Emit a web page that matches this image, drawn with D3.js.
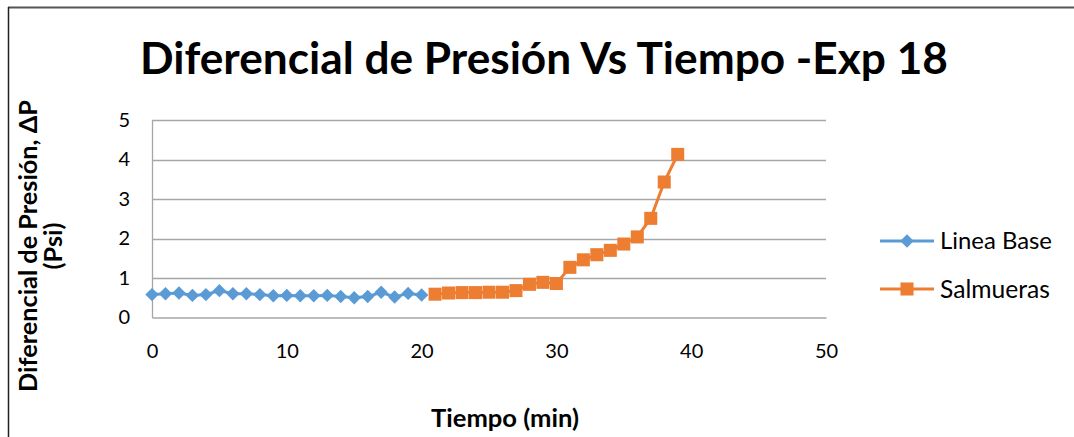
<!DOCTYPE html>
<html><head><meta charset="utf-8">
<script src="https://cdn.jsdelivr.net/npm/d3@7"></script>
<style>html,body{margin:0;padding:0;background:#fff;}svg{display:block;}</style>
</head><body>
<script>
const titleText = "Diferencial de Presión Vs Tiempo -Exp 18";
const yTitleLines = ["Diferencial de Presión, ΔP", "(Psi)"];
const xTitleText = "Tiempo (min)";
const seriesNames = ["Linea Base", "Salmueras"];
const xTicks = [0, 10, 20, 30, 40, 50];
const yTicks = [0, 1, 2, 3, 4, 5];
const baseTime = [0,1,2,3,4,5,6,7,8,9,10,11,12,13,14,15,16,17,18,19,20];
const baseDP = [0.58,0.60,0.62,0.56,0.58,0.68,0.60,0.60,0.58,0.55,0.56,0.55,0.55,0.56,0.53,0.50,0.53,0.64,0.52,0.61,0.57];
const brineTime = [21,22,23,24,25,26,27,28,29,30,31,32,33,34,35,36,37,38,39];
const brineDP = [0.59,0.62,0.63,0.63,0.64,0.64,0.68,0.84,0.89,0.86,1.27,1.46,1.59,1.70,1.86,2.04,2.51,3.43,4.13];

const W = 1074, H = 437;
const font = "Lato, 'Open Sans', sans-serif";
const svg = d3.select("body").append("svg").attr("width", W).attr("height", H);

// frame
svg.append("line").attr("x1", 8).attr("x2", W).attr("y1", 7.5).attr("y2", 7.5).attr("stroke", "#555").attr("stroke-width", 2);
svg.append("line").attr("x1", 8.5).attr("x2", 8.5).attr("y1", 7).attr("y2", H).attr("stroke", "#222").attr("stroke-width", 1.5);

const x = d3.scaleLinear().domain([0, 50]).range([152, 826]);
const y = d3.scaleLinear().domain([0, 5]).range([317.5, 120]);

// gridlines
svg.append("g").selectAll("line").data(yTicks.filter(d => d > 0)).join("line")
  .attr("x1", x(0)).attr("x2", x(50)).attr("y1", d => Math.round(y(d)) + 0.5).attr("y2", d => Math.round(y(d)) + 0.5)
  .attr("stroke", "#a6a6a6").attr("stroke-width", 1.3);

// axes
const yAxis = d3.axisLeft(y).tickValues(yTicks).tickSize(0).tickPadding(22).tickFormat(d3.format("d"));
const xAxis = d3.axisBottom(x).tickValues(xTicks).tickSize(0).tickPadding(22).tickFormat(d3.format("d"));
const gy = svg.append("g").attr("transform", `translate(${x(0)},0)`).call(yAxis);
const gx = svg.append("g").attr("transform", `translate(0,${y(0)})`).call(xAxis);
[gy, gx].forEach(g => {
  g.select(".domain").attr("stroke", "#a6a6a6").attr("stroke-width", 1.3);
  g.selectAll("text").attr("font-family", font).attr("font-size", 20).attr("fill", "#000");
});
gx.selectAll("text").attr("dy", "0.9em");

// lines
const line = d3.line().x(d => x(d[0])).y(d => y(d[1]));
const baseData = baseTime.map((t, i) => [t, baseDP[i]]);
const brineData = brineTime.map((t, i) => [t, brineDP[i]]);
const blue = "#5b9bd5", orange = "#ed7d31";

svg.append("path").datum(baseData).attr("d", line).attr("fill", "none").attr("stroke", blue).attr("stroke-width", 3);
const diamond = d3.symbol().type(d3.symbolSquare).size(90);
svg.append("g").selectAll("path").data(baseData).join("path")
  .attr("d", diamond).attr("fill", blue)
  .attr("transform", d => `translate(${x(d[0])},${y(d[1])}) rotate(45)`);

svg.append("path").datum(brineData).attr("d", line).attr("fill", "none").attr("stroke", orange).attr("stroke-width", 3);
const square = d3.symbol().type(d3.symbolSquare).size(170);
svg.append("g").selectAll("path").data(brineData).join("path")
  .attr("d", square).attr("fill", orange)
  .attr("transform", d => `translate(${x(d[0])},${y(d[1])})`);

// text fitting helper
function fit(t, width, maxSize) {
  let s = maxSize;
  t.attr("font-size", s);
  const w = t.node().getComputedTextLength();
  if (w > 0) t.attr("font-size", s * width / w);
}

// title
const title = svg.append("text").attr("x", 544).attr("y", 74).attr("text-anchor", "middle")
  .attr("font-family", font).attr("font-weight", "bold").attr("fill", "#000").text(titleText);
fit(title, 808, 42);

// y title
const yt1 = svg.append("text").attr("transform", "translate(37,246) rotate(-90)").attr("text-anchor", "middle")
  .attr("font-family", font).attr("font-weight", "bold").attr("fill", "#000").text(yTitleLines[0]);
fit(yt1, 292, 19);
const yt2 = svg.append("text").attr("transform", "translate(62,246) rotate(-90)").attr("text-anchor", "middle")
  .attr("font-family", font).attr("font-weight", "bold").attr("fill", "#000").text(yTitleLines[1]);
yt2.attr("font-size", yt1.attr("font-size"));

// x title
const xt = svg.append("text").attr("x", 505).attr("y", 427).attr("text-anchor", "middle")
  .attr("font-family", font).attr("font-weight", "bold").attr("fill", "#000").text(xTitleText);
fit(xt, 148, 20);

// legend
const legY = [241, 289];
const legColors = [blue, orange];
const legWidths = [112, 110];
seriesNames.forEach((name, i) => {
  const g = svg.append("g");
  g.append("line").attr("x1", 880).attr("x2", 934).attr("y1", legY[i]).attr("y2", legY[i]).attr("stroke", legColors[i]).attr("stroke-width", 3);
  g.append("path").attr("d", i === 0 ? diamond() : square()).attr("fill", legColors[i])
    .attr("transform", `translate(907,${legY[i]})` + (i === 0 ? " rotate(45)" : ""));
  const t = g.append("text").attr("x", 940).attr("y", legY[i]).attr("dy", "0.35em")
    .attr("font-family", font).attr("fill", "#000").text(name);
  fit(t, legWidths[i], 20);
});
</script>
</body></html>
